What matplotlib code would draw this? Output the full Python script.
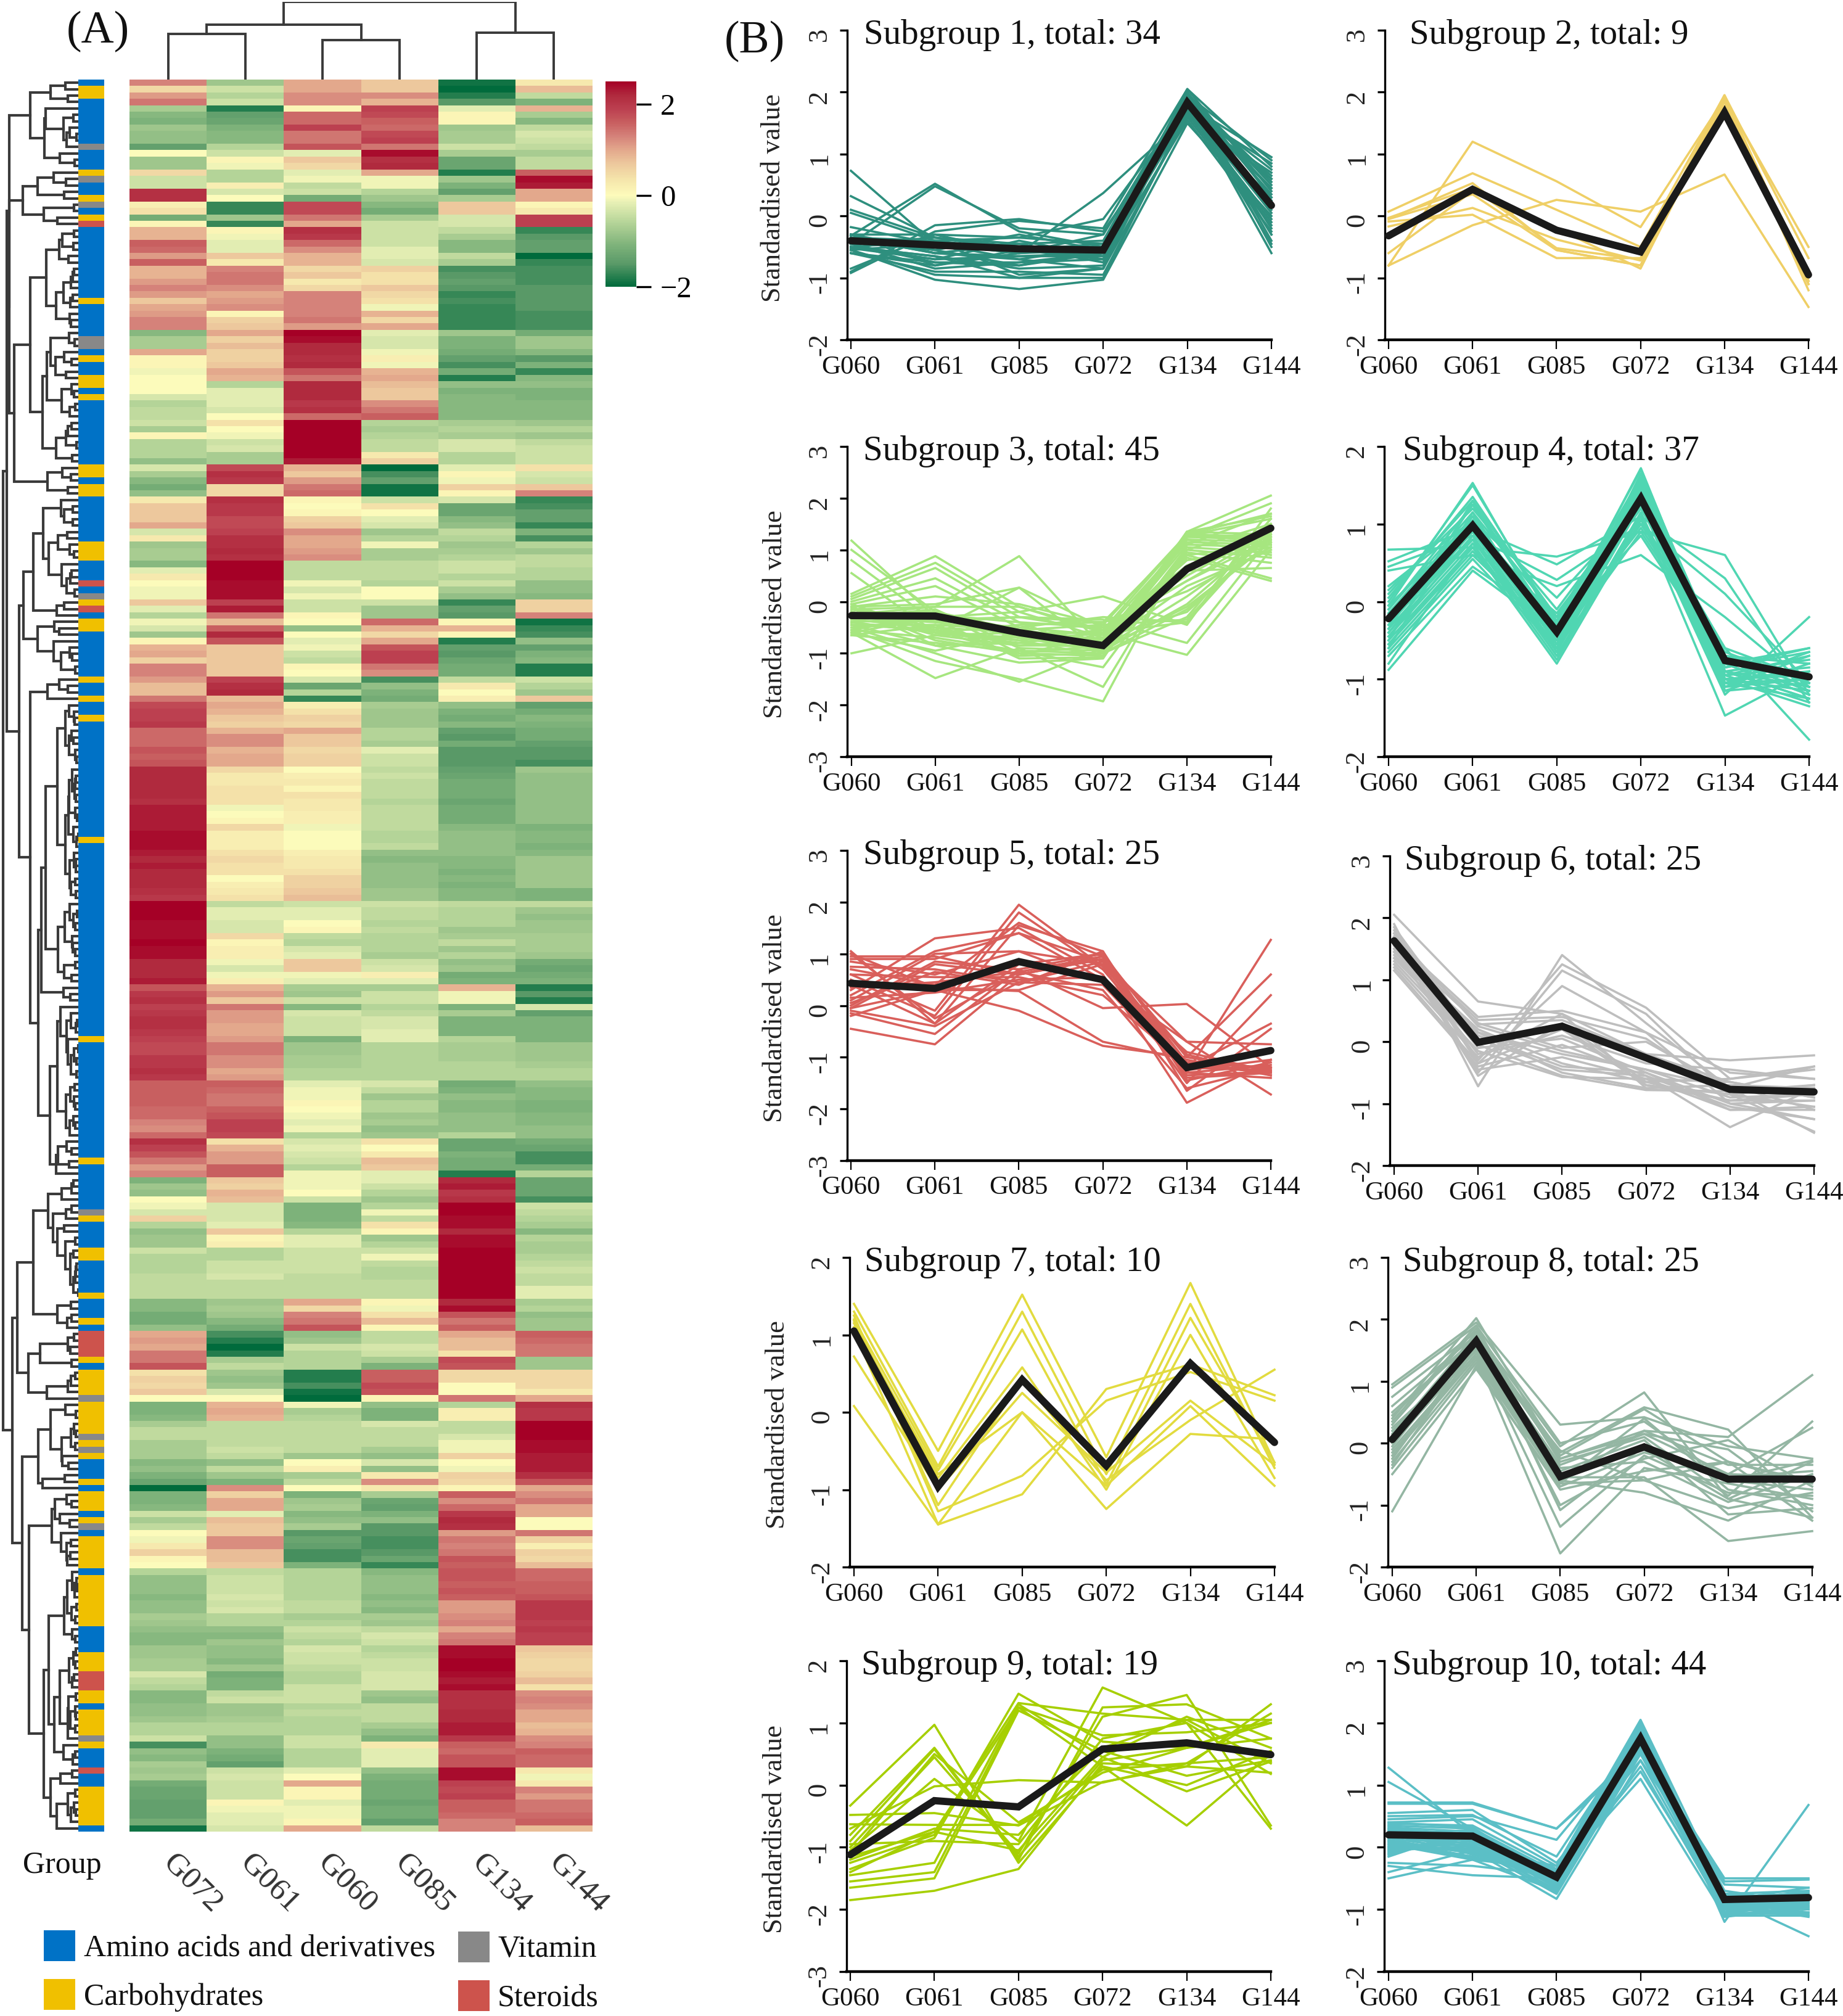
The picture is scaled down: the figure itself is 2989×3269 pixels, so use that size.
import numpy as np
import matplotlib
matplotlib.use('Agg')
import matplotlib.pyplot as plt
from matplotlib.colors import LinearSegmentedColormap
from matplotlib.patches import Rectangle

plt.rcParams['font.family'] = ['Liberation Serif', 'DejaVu Serif']

W, H = 2989, 3269

# heatmap values x10, columns in heat_cols order
heat_cols = ['G072', 'G061', 'G060', 'G085', 'G134', 'G144']
heat_a = [
 [13,-8,10,7,-19,3],[5,-4,10,7,-21,8],[11,-6,12,12,-18,-5],[14,-4,12,9,-15,-11],[-7,-18,1,19,-2,9],
 [-10,-14,15,18,1,-7],[-11,-13,15,16,1,-10],[-8,-11,19,15,-8,-5],[-9,-10,14,18,-7,-3],[-9,-10,14,19,-7,-4],
 [-14,-6,17,14,-4,-5],[0,-4,-2,24,-7,-7],[-8,1,7,21,-13,-5],[-8,-1,5,22,-13,-5],[5,-6,-2,10,-18,16],
 [-4,-6,-1,-1,-8,24],[-4,2,-5,-1,-11,23],[21,-3,-4,-6,-14,10],[21,0,-12,-8,-7,10],[2,-17,18,-10,7,1],
 [4,-17,18,-12,7,3],[-12,-8,14,-7,-3,19],[1,-17,10,-4,-3,19],[9,1,21,-4,-5,-17],[9,-1,20,-4,-7,-15],
 [16,-2,15,-4,-10,-14],[15,-2,12,-2,-10,-14],[11,7,9,-2,-5,-21],[16,3,9,-3,-7,-17],[9,13,5,6,-16,-16],
 [9,14,7,4,-15,-16],[11,14,3,4,-14,-16],[13,12,5,7,-15,-15],[11,10,13,5,-17,-15],[7,11,13,4,-16,-15],
 [10,12,13,-1,-17,-15],[11,1,13,9,-17,-16],[13,6,14,5,-17,-16],[13,7,11,10,-17,-16],[-10,10,25,-2,-8,-12],
 [-7,6,24,-3,-11,-8],[-7,8,22,-3,-11,-8],[10,6,22,-1,-12,-10],[1,6,21,2,-14,-15],[1,7,22,-1,-16,-11],
 [-1,10,17,9,-12,-17],[0,9,14,10,-18,-10],[0,-6,22,8,-9,-9],[0,-2,22,7,-11,-11],[-3,-2,22,7,-10,-11],
 [-6,-2,20,12,-10,-10],[-5,-3,21,14,-10,-10],[-5,0,15,16,-10,-10],[-4,4,25,-6,-7,-8],[-7,0,25,-7,-6,-6],
 [1,-1,25,-6,-7,-8],[-6,-4,25,-5,-3,-5],[-6,-3,25,-5,-3,-4],[-6,-7,25,3,-6,-4],[-9,-7,23,6,-6,-4],
 [-3,18,9,-20,-2,4],[-7,21,7,-16,1,-3],[-10,20,11,-14,-1,-4],[-12,5,14,-19,6,7],[-9,5,15,-19,1,13],
 [3,21,1,-4,-3,-17],[7,20,0,4,-13,-16],[7,20,1,0,-13,-14],[7,18,6,-2,-10,-14],[10,18,7,-3,-9,-17],
 [-3,19,12,-8,-5,-11],[3,21,10,-6,-6,-16],[-8,21,10,-1,-8,-6],[-7,22,11,-7,-7,-8],[-7,21,12,-7,-6,-5],
 [-10,25,-5,-5,-4,-5],[-2,25,-5,-5,-4,-6],[3,25,-5,-5,-6,-6],[0,24,-1,-6,-4,-9],[-1,24,-3,0,-7,-9],
 [-1,24,-1,0,-9,-10],[7,19,-4,-4,-17,6],[-2,23,-4,-8,-14,6],[-6,14,1,-8,-15,13],[-1,8,0,15,1,-19],
 [-3,16,-9,9,9,-17],[-8,22,0,5,1,-16],[1,17,-2,10,-18,-9],[9,7,-1,17,-14,-14],[10,7,-4,19,-15,-11],
 [6,7,-5,19,-13,-10],[13,7,1,14,-12,-18],[13,7,0,12,-12,-18],
]
heat_b = [
 [11,19,-3,-16,-5,-4],[8,21,-13,-9,3,-6],[8,22,-6,-11,0,-8],[14,8,-17,-12,2,7],[18,10,2,-7,-9,-14],
 [19,9,4,-8,-11,-12],[19,7,6,-8,-12,-10],[20,6,5,-8,-10,-11],[15,9,10,-6,-14,-12],[15,12,7,-6,-15,-12],
 [15,12,7,-7,-12,-14],[17,9,5,-2,-15,-15],[16,10,6,-4,-15,-15],[17,10,6,-4,-15,-16],[22,5,0,-5,-14,-8],
 [22,3,2,-4,-13,-9],[22,3,3,-5,-12,-9],[22,4,1,-5,-12,-9],[22,4,4,-5,-12,-9],[21,4,3,-6,-13,-9],
 [23,-1,3,-5,-12,-9],[23,0,2,-5,-12,-9],[23,1,2,-5,-12,-9],[23,5,-1,-5,-10,-11],[24,2,0,-6,-9,-10],
 [24,2,0,-6,-9,-10],[24,2,0,-5,-9,-11],[23,4,2,-9,-9,-10],[22,5,3,-10,-10,-8],[23,4,3,-9,-10,-8],
 [22,4,4,-9,-11,-8],[22,0,6,-9,-10,-8],[22,2,6,-9,-11,-8],[21,3,7,-8,-10,-11],[20,4,8,-8,-10,-11],
 [25,-5,-4,-4,-5,-5],[25,-2,-2,-5,-6,-8],[25,-2,-2,-5,-6,-9],[24,-3,0,-6,-6,-8],[24,-3,1,-5,-8,-8],
 [24,5,-5,-6,-7,-7],[25,1,-6,-6,-5,-7],[24,2,-3,-6,-8,-7],[24,2,-2,-7,-6,-8],[22,-1,7,-4,-9,-12],
 [22,-3,7,-3,-8,-13],[22,-1,-1,2,-12,-12],[23,2,-2,-2,-11,-11],[17,9,-7,-7,9,-18],[20,11,-8,-4,-1,-15],
 [21,7,-4,-4,-1,-18],[19,14,-10,-6,-11,-3],[20,11,-3,-5,-7,-14],[21,11,-4,-3,-11,-11],[21,10,-4,-3,-11,-11],
 [20,10,-4,-2,-11,-11],[19,11,-11,-2,-6,-11],[18,14,-8,-6,-7,-8],[18,14,-8,-6,-7,-8],[20,12,-7,-6,-7,-8],
 [20,12,-7,-6,-6,-7],
]
heat_c = [
 [21,10,-6,-6,-6,-6],[20,11,-6,-6,-6,-6],[16,16,-2,-3,-12,-9],[16,15,-1,-5,-11,-10],[16,14,-1,-8,-9,-10],
 [16,14,1,-6,-10,-11],[15,16,0,-6,-10,-11],[15,17,-1,-8,-9,-10],[13,19,-2,-7,-9,-10],[12,19,-1,-9,-9,-9],
 [15,18,-6,-8,-6,-9],[21,4,-3,4,-13,-12],[19,9,-2,0,-13,-13],[17,11,-3,3,-11,-16],[14,11,-4,8,-12,-16],
 [11,16,-6,7,-12,-12],[13,16,-1,-2,-18,-6],[-11,7,-1,-2,22,-13],[-8,6,-1,-4,23,-13],[-9,9,0,-6,20,-13],
 [0,8,-4,-8,21,-16],[-1,-3,-11,-6,25,-4],[-3,-3,-11,-1,25,-5],[6,-3,-11,-5,24,-6],[-6,-2,-10,4,24,-7],
 [-9,7,-6,1,22,-10],[-8,1,-2,-8,24,-6],[-8,2,-2,-6,24,-7],[-4,-6,-4,-4,25,-7],[-6,-6,-4,-1,25,-6],
 [-6,-4,-4,-5,25,-5],[-6,-4,-4,-6,25,-4],[-5,-3,-5,-6,25,-5],[-5,-5,-5,-5,25,-5],[-5,-5,-5,-5,25,-2],
 [-5,-5,-5,-5,25,-2],[-10,-8,10,1,22,-7],[-10,-7,5,-1,24,-6],[-12,-8,13,4,17,-9],[-12,-10,14,8,14,-8],
 [-9,-12,17,1,16,-8],[10,-16,-9,-5,10,16],[11,-18,-8,-5,8,15],[10,-20,-4,-3,8,14],[14,-18,-6,-4,4,14],
 [14,-7,-6,-7,18,-8],[17,-5,-6,-11,17,-8],[4,-8,-18,16,5,5],[6,-9,-18,16,5,5],[5,-8,-16,18,0,5],
 [7,-3,-19,17,0,3],[0,0,-21,1,14,10],[-11,9,-1,-9,-6,21],[-11,10,-7,-11,2,20],[-10,9,-6,-11,2,20],
 [-7,-5,-5,-3,-5,25],[-5,-5,-5,-5,-5,25],[-5,-5,-5,-5,-3,25],[-7,-5,-5,-5,-1,24],[-7,-4,-5,-7,-1,24],
 [-7,-5,-8,-9,6,23],
]
heat_d = [
 [-10,-9,0,-3,0,23],[-9,-5,2,-9,-1,23],[-11,-8,-7,3,6,21],[-13,-11,-5,12,5,17],[-23,12,0,3,1,10],
 [-11,6,-11,-7,16,12],[-11,10,-8,-13,12,14],[-10,10,-7,-14,15,10],[-4,-2,-10,-11,20,10],[-7,8,-9,-9,22,0],
 [-5,7,-7,-15,21,0],[0,7,-15,-15,11,14],[-1,12,-13,-16,14,6],[3,12,-14,-16,13,2],[6,8,-16,-15,14,6],
 [1,8,-16,-13,17,5],[0,7,-11,-17,16,8],[-6,-5,-6,-10,17,15],[-9,-4,-6,-9,17,15],[-9,-4,-6,-9,16,16],
 [-9,-4,-6,-9,17,16],[-10,-3,-6,-10,16,17],[-9,-4,-5,-9,11,20],[-9,-3,-5,-10,11,20],[-7,-6,-7,-7,12,20],
 [-8,-6,-6,-8,13,19],[-9,-9,-4,-5,10,20],[-10,-10,-5,-3,13,19],[-10,-8,-6,-4,14,19],[-8,-9,-3,-6,24,7],
 [-8,-9,-4,-5,24,6],[-7,-10,-4,-4,25,5],[-7,-8,-5,-4,25,5],[-3,-12,-6,-3,24,6],[-5,-11,-6,-3,23,8],
 [-6,-11,-4,-3,24,4],[-10,-5,-4,-8,21,12],[-10,-4,-4,-9,21,13],[-9,-8,-6,-5,21,12],[-9,-8,-5,-5,22,10],
 [-8,-7,-6,-5,22,10],[-6,-6,-6,-7,23,8],[-6,-6,-6,-9,23,9],[-4,-9,-4,-11,20,12],[-16,-9,-4,3,16,13],
 [-9,-11,-6,-2,15,16],[-10,-12,-6,-2,17,15],[-7,-14,-6,-2,17,15],[-8,-4,-2,-9,24,3],[-7,-3,0,-11,24,-1],
 [-12,-4,10,-12,19,3],[-13,-4,1,-12,18,13],[-13,-4,1,-12,19,11],[-14,1,-2,-13,16,14],[-14,-1,-1,-12,16,14],
 [-14,-2,-1,-12,15,15],[-12,-2,1,-14,13,16],[-19,-3,10,-5,13,8],
]

# row annotation, run lengths from the top of the heatmap
group_names = ['Amino acids and derivatives', 'Carbohydrates', 'Vitamin', 'Steroids']
group_colors = ['#0072C6', '#F0C000', '#888888', '#CD534C']
group_runs = [(0,1),(1,2),(0,7),(2,1),(0,3),(1,1),(2,1),(0,2),(1,1),(2,1),(0,1),(1,1),(3,1),(0,11),(1,1),(0,5),
              (2,2),(0,1),(1,1),(0,2),(1,2),(0,1),(1,1),(0,10),(1,2),(0,1),(1,2),(0,7),(1,3),(0,3),(3,1),(0,1),
              (2,1),(1,1),(3,1),(0,1),(1,2),(0,7),(1,1),(0,2),(1,1),(0,2),(1,1),(0,18),(1,1),(0,30),(1,1),(0,18),
              (1,1),(0,7),(2,1),(1,1),(0,4),(1,2),(0,5),(1,1),(0,3),(1,1),(0,1),(3,4),(1,1),(0,1),(1,4),(2,1),
              (1,5),(2,1),(1,1),(2,1),(1,1),(0,3),(1,1),(0,1),(1,3),(0,1),(1,1),(2,1),(0,1),(1,5),(0,1),(1,8),
              (0,4),(1,3),(3,3),(1,2),(0,1),(1,4),(2,1),(1,1),(0,3),(3,1),(0,2),(1,6),(0,1)]

# top dendrogram: pixel-free heights of each merge, leaves are heat columns
top_heights = {'a': 73, 'b': 63, 'ab': 88, 'c': 75, 'root': 125}

# subgroup line values x100, order of sample_order
sample_order = ['G060', 'G061', 'G085', 'G072', 'G134', 'G144']
sub1_lines = [
 [73,-45,-60,-55,170,60],[32,-35,-55,-60,165,30],[10,-35,-50,-50,175,45],[5,-40,-55,-55,180,95],[-18,-45,-55,-45,185,-60],
 [-30,-60,-45,-40,200,-50],[-32,52,-25,-50,190,-30],[-45,48,-20,-30,195,90],[-90,-15,-5,-25,170,85],[-92,-25,-8,-20,205,80],
 [-85,-30,-60,37,160,70],[-50,-40,-35,-5,180,65],[-30,-80,-60,-30,190,55],[-35,-60,-70,-50,195,50],[-40,-55,-80,-55,205,40],
 [-45,-75,-75,-60,200,30],[-50,-70,-40,-65,185,20],[-55,-95,-100,-100,170,10],[-55,-103,-118,-103,150,0],[-60,-90,-90,-95,165,-10],
 [-50,-65,-85,-80,185,-20],[-45,-35,-45,-70,195,-30],[-40,-50,-50,-75,200,-40],[-35,-60,-65,-60,190,35],[-30,-55,-30,-55,175,25],
 [-30,-30,-35,-45,180,75],[-60,-80,-55,-70,175,5],[-55,-45,-70,-85,190,15],[-50,-65,-100,-85,160,-15],[-45,-85,-75,-70,155,-25],
 [-40,-45,-60,-50,185,45],[-35,-40,-95,-85,195,60],[-60,-75,-80,-60,180,-45],[-52,-70,-65,-65,170,-5],
]
sub2_lines = [
 [-80,120,56,-18,190,-50],[7,69,10,-50,195,-68],[-5,53,-55,-80,190,-100],[-3,45,-52,-70,195,-105],[-9,2,-68,-68,178,-110],
 [-17,13,-38,-72,190,-120],[-60,40,-20,-85,185,-110],[-80,-15,26,7,67,-147],[-5,35,-55,-80,192,-105],
]
sub3_lines = [
 [118,-30,-70,-85,130,120],[100,-20,-55,-75,125,130],[80,-40,-60,-90,135,110],[55,-60,-80,-60,60,65],[15,88,-10,-60,-40,140],
 [10,75,-20,-70,-20,130],[5,65,-30,-40,20,105],[0,45,-40,-100,-30,160],[-5,30,-50,-30,-40,150],[-10,10,-5,-45,-35,140],
 [-10,-5,27,-50,40,120],[-15,-10,88,-90,-10,115],[-20,-55,27,-100,135,165],[-25,-10,-10,-55,130,170],[-30,-30,-20,10,-45,180],
 [-30,-40,-30,-35,-80,125],[-35,-50,-60,-60,-103,100],[-40,-60,-75,-60,120,90],[-45,-85,-118,-110,135,205],[-50,-100,-155,-90,125,190],
 [-55,-115,-150,-193,110,170],[-60,-148,-90,-165,100,150],[-65,-80,-95,-127,90,45],[-100,-65,-85,-85,85,40],[-65,-45,-105,-60,70,130],
 [-60,-30,-70,-55,60,150],[-55,-25,-40,-50,50,140],[-50,-35,-30,-55,40,135],[-45,-45,-55,-45,130,125],[-40,-60,-45,-40,125,120],
 [-40,-30,-70,-70,115,110],[-35,-25,-65,-85,110,105],[-30,-15,-90,-95,120,115],[-25,-20,-100,-105,105,95],[-25,-35,-110,-108,100,85],
 [-20,-55,-75,-105,95,75],[-20,-65,-60,-80,130,120],[-15,-50,-85,-75,90,110],[-15,-35,-50,-65,80,105],[-10,-75,-100,-85,30,100],
 [-10,-85,-80,-90,10,125],[-5,-60,-70,-95,-5,135],[-45,-55,-105,-100,-15,115],[-55,-70,-95,-100,135,130],[-60,-95,-60,-75,128,160],
]
sub4_lines = [
 [67,70,58,90,60,-120],[52,95,48,110,30,-130],[45,85,28,100,10,-105],[40,60,20,60,-20,-110],[20,105,5,125,-60,-100],
 [15,120,-10,135,-70,-95],[10,130,-20,150,-75,-115],[5,135,-25,160,-80,-120],[0,150,-30,170,-90,-125],[-5,153,-35,172,-95,-130],
 [-10,125,-40,155,-100,-135],[-15,110,-45,145,-90,-75],[-20,100,-50,140,-85,-60],[-25,95,-55,135,-105,-65],[-30,90,-60,130,-110,-70],
 [-35,85,-65,125,-115,-80],[-40,80,-70,115,-120,-20],[-45,75,-75,110,-147,-90],[-50,70,-80,105,-60,-178],[-55,65,-55,100,-65,-105],
 [-60,60,-45,95,-70,-110],[-65,55,-60,90,-75,-115],[-70,45,-30,85,-80,-120],[-88,40,-40,130,-90,-125],[-25,105,-35,140,-95,-85],
 [-20,90,-45,150,-100,-90],[-15,80,-50,160,-105,-100],[-10,115,-55,165,-80,-60],[-5,100,-25,145,-85,-65],[-30,110,-65,135,-95,-70],
 [-35,125,-35,150,-100,-95],[-40,95,-30,120,-70,-80],[-45,85,-70,110,-110,-100],[-50,130,-40,155,-115,-105],[-55,70,-60,130,-90,-110],
 [-60,115,-20,140,-100,-115],[-80,75,-15,125,-105,-125],
]
sub5_lines = [
 [105,-35,80,100,-140,-130],[95,95,60,90,-120,-125],[90,90,140,85,-110,-120],[85,60,105,80,-130,127],[70,40,160,95,-100,60],
 [60,-10,195,75,-150,20],[50,-20,180,70,-120,-35],[40,-35,155,105,-165,-45],[30,130,150,60,-188,-105],[20,105,140,50,-130,-115],
 [10,100,105,45,-70,-75],[0,85,70,-5,3,-120],[-5,30,-10,-78,-100,-125],[-15,-55,70,100,-110,-130],[-45,-75,60,95,-95,-135],
 [-10,-40,45,85,-70,-172],[-20,30,30,80,-120,-125],[100,35,28,-70,-105,-135],[75,70,45,40,-130,-140],[60,55,55,20,-115,-130],
 [35,45,65,30,-160,-120],[15,25,50,55,-90,-128],[5,65,40,105,-145,-110],[-5,80,60,90,-125,-105],[100,-25,65,95,-135,-128],
]
sub6_lines = [
 [205,65,45,-20,-30,-22],[190,-72,140,30,-75,-40],[180,-30,125,55,-60,-45],[175,-50,115,45,-85,-105],[170,-35,90,15,-50,-60],
 [165,40,50,15,-100,-125],[160,35,40,5,-85,-145],[155,30,-10,0,-75,-147],[150,15,-20,-45,-90,-85],[145,10,-40,-50,-110,-110],
 [140,5,-45,-55,-138,-75],[135,-5,-55,-78,-80,-70],[130,-15,-57,-60,-65,-90],[125,-25,45,-75,-70,-110],[120,-35,20,-70,-95,-95],
 [115,-40,-5,-55,-105,-125],[150,-45,-25,-60,-110,-105],[165,-55,30,-65,-60,-40],[155,-20,10,-35,-45,-60],[175,25,-15,-45,-75,-80],
 [145,20,-35,-65,-95,-85],[185,0,25,-70,-85,-70],[135,15,-50,-75,-70,-75],[160,-10,5,-50,-100,-95],[170,28,35,-20,-65,-90],
]
sub7_lines = [
 [140,-50,152,-58,167,-65],[130,-70,130,-80,140,-72],[120,-75,107,-93,122,-65],[115,-85,58,-100,100,-85],[72,-100,25,-78,15,-68],
 [8,-145,0,-125,-28,-35],[125,-128,-82,15,52,15],[105,-145,-106,30,62,22],[110,-80,0,-95,8,-95],[118,-120,42,-88,-10,55],
]
sub8_lines = [
 [95,195,30,42,-5,-25],[90,190,0,35,-60,-28],[75,180,-5,82,-90,-30],[60,175,-15,58,22,-120],[50,170,-20,55,-30,-125],
 [40,202,-25,20,10,110],[30,185,-30,10,-85,35],[20,160,-35,15,-50,25],[10,155,-40,-30,-95,-50],[0,150,-45,5,-115,-105],
 [-10,145,-50,-10,-90,-120],[-20,140,-55,-55,-158,-142],[-30,135,-60,-80,-125,-60],[-40,130,-65,-60,-105,-80],[-50,120,-70,-15,-50,-55],
 [-110,125,-75,-45,-30,-62],[-5,165,-100,-25,5,-70],[15,175,-108,-5,-60,-75],[25,150,-135,-20,-80,-85],[-15,140,-178,-40,-65,-90],
 [35,190,-62,20,-35,-35],[5,180,-58,-10,-55,-45],[-25,160,-65,40,-75,-100],[45,170,-25,15,-10,-110],[-35,155,-12,-60,-30,-65],
]
sub9_lines = [
 [-33,97,-125,30,-65,50],[-48,-45,-65,5,30,130],[-63,-64,-64,25,35,115],[-70,-2,8,4,35,45],[-80,60,-115,40,60,105],
 [-90,58,-120,125,130,75],[-100,45,-110,110,145,-65],[-105,10,-90,157,100,-70],[-115,-75,132,115,105,105],[-125,-80,125,80,85,100],
 [-135,-85,147,70,60,75],[-145,-125,130,45,110,60],[-155,-140,125,30,0,55],[-165,-150,120,55,15,40],[-185,-170,-135,35,30,20],
 [-120,-70,-80,60,105,35],[-95,-90,-95,75,100,18],[-140,-75,-105,45,-10,38],[-110,50,-60,20,60,100],
]
sub10_lines = [
 [128,20,-40,170,-90,-100],[105,30,-50,180,-85,-95],[72,72,30,160,-50,-50],[70,70,30,150,-55,-52],[55,60,-25,140,-60,-65],
 [50,52,-15,190,-120,68],[45,50,12,175,-80,-143],[40,45,-30,205,-75,-70],[38,35,-35,200,-90,-75],[35,30,-40,195,-95,-80],
 [32,25,-45,185,-100,-85],[30,20,-50,180,-105,-90],[28,15,-55,170,-110,-95],[25,12,-60,165,-85,-105],[22,10,-65,160,-80,-110],
 [20,5,-70,155,-90,-112],[18,0,-75,150,-95,-100],[15,-5,-83,140,-100,-95],[12,-10,-50,130,-105,-90],[10,-15,-45,122,-95,-85],
 [8,-18,-40,110,-110,-80],[5,-20,-35,200,-90,-70],[3,-5,-30,195,-85,-65],[0,5,-60,190,-80,-75],[-3,10,-55,185,-75,-85],
 [-5,15,-65,180,-70,-90],[-8,20,-50,175,-95,-100],[-10,25,-45,170,-100,-105],[-12,28,-55,165,-105,-108],[-15,30,-60,160,-110,-110],
 [-25,-30,-45,155,-95,-95],[-30,-45,-50,175,-90,-88],[-50,-20,-70,190,-85,-80],[-40,-5,-58,180,-80,-75],[30,-12,-42,195,-92,-100],
 [35,8,-48,185,-88,-98],[15,22,-38,178,-100,-92],[25,18,-62,188,-96,-88],[5,-8,-56,198,-104,-82],[40,32,-52,170,-78,-78],
 [-5,2,-68,192,-84,-72],[10,12,-35,182,-108,-105],[20,28,-44,176,-112,-96],[0,-2,-72,168,-98,-84],
]

sub_lines = [sub1_lines, sub2_lines, sub3_lines, sub4_lines, sub5_lines,
             sub6_lines, sub7_lines, sub8_lines, sub9_lines, sub10_lines]
sub_means = [[-0.40,-0.47,-0.53,-0.55,1.83,0.17],[-0.32,0.43,-0.23,-0.58,1.67,-0.95],
             [-0.27,-0.28,-0.60,-0.85,0.63,1.42],[-0.22,0.98,-0.39,1.33,-0.76,-0.97],
             [0.43,0.33,0.85,0.50,-1.20,-0.87],[1.63,-0.01,0.25,-0.26,-0.77,-0.81],
             [1.05,-0.96,0.42,-0.69,0.63,-0.39],[0.06,1.65,-0.54,-0.06,-0.58,-0.58],
             [-1.12,-0.25,-0.35,0.58,0.68,0.49],[0.20,0.18,-0.48,1.75,-0.84,-0.81]]
sub_colors = ['#2E8F7E', '#EFCF66', '#A6E67F', '#50D6B2', '#D95F5B',
              '#BEBEBE', '#E2DB3F', '#94B6A3', '#A6CF00', '#5BBFC6']
sub_totals = [34, 9, 45, 37, 25, 25, 10, 25, 19, 44]
sub_ylims = [(-2,3),(-2,3),(-3,3),(-2,2),(-3,3),(-2,3),(-2,2),(-2,3),(-3,2),(-2,3)]

# panel boxes in pixels: spine x, first tick x, last tick x, top, bottom, title x, title baseline
panel_boxes = [(1374,1380,2062,49,551,1401,71),(2246,2252,2933,49,551,2286,71),
               (1374,1381,2061,724,1227,1400,746),(2245,2252,2934,724,1227,2275,746),
               (1374,1380,2061,1379,1882,1400,1401),(2254,2261,2942,1388,1890,2278,1410),
               (1378,1385,2067,2039,2541,1402,2061),(2251,2258,2939,2039,2541,2275,2061),
               (1373,1379,2061,2693,3197,1397,2715),(2245,2252,2933,2693,3197,2258,2715)]
ylabel_pos = {0:(1254,321),2:(1257,996),4:(1257,1651),6:(1261,2310),8:(1257,2966)}


def add_px_axes(fig, x0, y0, x1, y1):
    return fig.add_axes([x0/W, 1-y1/H, (x1-x0)/W, (y1-y0)/H])


def px_text(fig, x, y, s, **kw):
    return fig.text(x/W, 1-y/H, s, **kw)


def adjacent_linkage(rows):
    """merge neighbouring rows only so the leaf order stays as drawn"""
    clusters = [{'rows': [i], 'pos': float(i), 'h': 0.0} for i in range(len(rows))]
    merges = []

    def dist(a, b):
        d = np.linalg.norm(rows[a['rows']][:, None, :] - rows[b['rows']][None, :, :], axis=2)
        return d.max()

    gaps = [dist(clusters[i], clusters[i+1]) for i in range(len(clusters)-1)]
    while len(clusters) > 1:
        i = int(np.argmin(gaps))
        a, b = clusters[i], clusters[i+1]
        h = max(gaps[i], a['h'], b['h'])
        merges.append((a['pos'], a['h'], b['pos'], b['h'], h))
        clusters[i] = {'rows': a['rows']+b['rows'], 'pos': (a['pos']+b['pos'])/2, 'h': h}
        del clusters[i+1]
        del gaps[i]
        if i > 0:
            gaps[i-1] = dist(clusters[i-1], clusters[i])
        if i < len(clusters)-1:
            gaps[i] = dist(clusters[i], clusters[i+1])
    return merges


heat = np.array(heat_a + heat_b + heat_c + heat_d) / 10.0
n_rows = heat.shape[0]

cmap = LinearSegmentedColormap.from_list('heat', [
    (0.0, '#006B3C'), ((-1.5+2)/4.5, '#5A9A68'), ((-1.1+2)/4.5, '#7DB27A'), ((-0.6+2)/4.5, '#B5D498'),
    ((-0.15+2)/4.5, '#E8F0B5'), (2/4.5, '#FDFBBB'), (2.35/4.5, '#F5E5AB'), (2.7/4.5, '#EDC89D'),
    (3.0/4.5, '#E3A88C'), (3.3/4.5, '#D5827A'), (3.6/4.5, '#C85F60'), (3.9/4.5, '#BC4050'),
    (4.2/4.5, '#B02A3E'), (1.0, '#A50026')])

fig = plt.figure(figsize=(W/100, H/100), dpi=100)
fig.patch.set_facecolor('white')

# (A) heatmap
ax_heat = add_px_axes(fig, 210, 129, 961, 2970)
mesh = ax_heat.pcolormesh(np.arange(7), np.arange(n_rows+1), heat, cmap=cmap, vmin=-2, vmax=2.5)
ax_heat.set_ylim(n_rows, 0)
ax_heat.axis('off')

for i, name in enumerate(heat_cols):
    ax_heat.annotate(name, xy=(i+0.5, n_rows), xycoords='data', xytext=(16, -28), textcoords='offset pixels',
                     rotation=-45, rotation_mode='anchor', ha='left', va='top', fontsize=37, color='#333333')

# group strip
ax_grp = add_px_axes(fig, 127, 129, 169, 2970)
start = 0
for cat, count in group_runs:
    ax_grp.barh(start + count/2, 1, height=count, color=group_colors[cat], linewidth=0)
    start += count
ax_grp.set_xlim(0, 1)
ax_grp.set_ylim(n_rows, 0)
ax_grp.axis('off')
px_text(fig, 37, 3037, 'Group', fontsize=36, color='#111111')

# row dendrogram
ax_dl = add_px_axes(fig, 0, 129, 127, 2970)
merges = adjacent_linkage(heat)
for p1, h1, p2, h2, h in merges:
    ax_dl.plot([h1, h, h, h2], [p1+0.5, p1+0.5, p2+0.5, p2+0.5], color='#3A3A3A', lw=3.0, solid_joinstyle='miter')
ax_dl.set_xlim(merges[-1][4]*1.04, 0)
ax_dl.set_ylim(n_rows, 0)
ax_dl.axis('off')

# column dendrogram
ax_dt = add_px_axes(fig, 210, 3, 961, 129)
ab_left = 1.0
cd_mid = 3.0
ef_mid = 5.0
ab_mid = (ab_left + cd_mid) / 2


def top_link(x1, h1, x2, h2, h):
    ax_dt.plot([x1, x1, x2, x2], [h1, h, h, h2], color='#3A3A3A', lw=2.8, solid_joinstyle='miter')


top_link(0.5, 0, 1.5, 0, top_heights['a'])
top_link(2.5, 0, 3.5, 0, top_heights['b'])
top_link(ab_left, top_heights['a'], cd_mid, top_heights['b'], top_heights['ab'])
top_link(4.5, 0, 5.5, 0, top_heights['c'])
top_link(ab_mid, top_heights['ab'], ef_mid, top_heights['c'], top_heights['root'])
ax_dt.set_xlim(0, 6)
ax_dt.set_ylim(0, 125)
ax_dt.axis('off')

# colour key
cax = add_px_axes(fig, 982, 132, 1032, 465)
cbar = fig.colorbar(mesh, cax=cax)
cbar.outline.set_visible(False)
cbar.set_ticks([2, 0, -2])
cbar.set_ticklabels(['2', '0', '\u22122'])
cbar.ax.tick_params(length=17, width=2.4, labelsize=35, pad=11, color='black')

# legend
legend_pos = [(71, 3130, 136, 3172), (71, 3209, 136, 3251), (743, 3132, 807, 3173), (743, 3211, 807, 3253)]
for name, col, (bx, by, tx, ty) in zip(group_names, group_colors, legend_pos):
    fig.add_artist(Rectangle((bx/W, 1-(by+50)/H), 51/W, 50/H, transform=fig.transFigure, facecolor=col, linewidth=0))
    px_text(fig, tx, ty, name, fontsize=36, color='#111111')

px_text(fig, 108, 69, '(A)', fontsize=53, color='#111111')
px_text(fig, 1175, 85, '(B)', fontsize=53, color='#111111')

# (B) subgroup panels
x_pos = np.arange(len(sample_order))
for i in range(10):
    spine_x, first_x, last_x, top, bottom, title_x, title_y = panel_boxes[i]
    ax = add_px_axes(fig, spine_x, top, last_x, bottom)
    for row in sub_lines[i]:
        ax.plot(x_pos, np.array(row)/100.0, color=sub_colors[i], lw=2.6, clip_on=False, zorder=2)
    ax.plot(x_pos, sub_means[i], color='#1A1A1A', lw=8.5, clip_on=False, zorder=3,
            solid_capstyle='round', solid_joinstyle='miter')
    step = (last_x-first_x)/5.0
    ax.set_xlim(-(first_x-spine_x)/step, 5)
    ymin, ymax = sub_ylims[i]
    ax.set_ylim(ymin, ymax)
    for s in ['top', 'right']:
        ax.spines[s].set_visible(False)
    ax.spines['left'].set_linewidth(2.4)
    ax.spines['bottom'].set_linewidth(3.2)
    ax.set_xticks(x_pos)
    ax.set_xticklabels(sample_order, fontsize=31, color='#111111')
    ax.tick_params(axis='x', length=11, width=1.6, pad=7)
    ys = list(range(ymin, ymax+1))
    ax.set_yticks(ys)
    ax.set_yticklabels([])
    ax.tick_params(axis='y', length=9, width=2.4)
    for v in ys:
        ax.annotate(str(v), xy=(0, v), xycoords=ax.get_yaxis_transform(), xytext=(-45, -7),
                    textcoords='offset pixels', rotation=90, ha='center', va='center',
                    fontsize=32, color='#222222')
    px_text(fig, title_x, title_y, 'Subgroup %d, total: %d' % (i+1, sub_totals[i]), fontsize=41, color='#111111')
    if i in ylabel_pos:
        lx, ly = ylabel_pos[i]
        px_text(fig, lx, ly, 'Standardised value', fontsize=32, rotation=90, ha='center', va='center', color='#222222')

fig.savefig('out.png', dpi=100)
